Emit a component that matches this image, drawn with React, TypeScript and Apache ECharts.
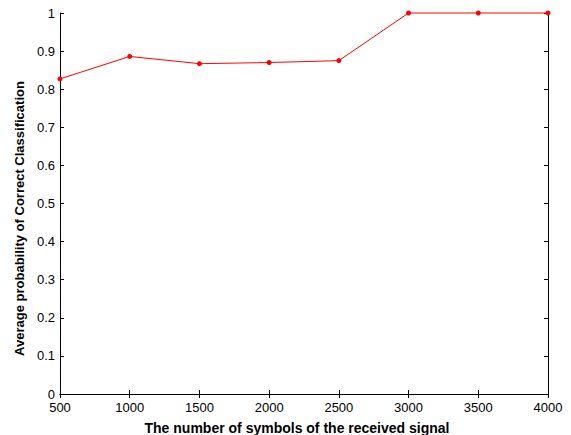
import React, { useEffect, useRef } from "react";
import * as echarts from "echarts";

const symbols = [500, 1000, 1500, 2000, 2500, 3000, 3500, 4000];
const probability = [0.827, 0.886, 0.867, 0.87, 0.875, 1, 1, 1];

export default function App() {
  const ref = useRef<HTMLDivElement>(null);
  useEffect(() => {
    if (!ref.current) return;
    const chart = echarts.init(ref.current, null, { renderer: "svg" });
    const font = "'Liberation Sans', Arial, sans-serif";
    const axisCommon = {
      type: "value" as const,
      axisLine: { show: true, lineStyle: { color: "#000", width: 1 } },
      axisTick: { show: true, inside: true, length: 4, lineStyle: { color: "#000" } },
      splitLine: { show: false },
    };
    chart.setOption({
      animation: false,
      backgroundColor: "#fff",
      grid: { left: 60, right: 23, top: 13, bottom: 41, outerBoundsMode: "none", containLabel: false },
      xAxis: [
        {
          ...axisCommon,
          min: 500,
          max: 4000,
          interval: 500,
          position: "bottom",
          axisLabel: {
            color: "#000",
            fontSize: 13,
            fontFamily: font,
            margin: 7,
            formatter: (v: number) => String(v),
          },
          name: "The number of symbols of the received signal",
          nameLocation: "middle",
          nameGap: 27,
          nameTextStyle: {
            color: "#000",
            fontSize: 14,
            fontWeight: "bold",
            fontFamily: font,
            padding: [0, 14, 0, 0],
          },
        },
        {
          ...axisCommon,
          min: 500,
          max: 4000,
          interval: 500,
          position: "top",
          axisLabel: { show: false },
        },
      ],
      yAxis: [
        {
          ...axisCommon,
          min: 0,
          max: 1,
          interval: 0.1,
          position: "left",
          axisLabel: { color: "#000", fontSize: 13, fontFamily: font, margin: 5 },
          name: "Average probability of Correct Classification",
          nameLocation: "middle",
          nameGap: 32,
          nameTextStyle: {
            color: "#000",
            fontSize: 13,
            fontWeight: "bold",
            fontFamily: font,
            padding: [0, 30, 0, 0],
          },
        },
        {
          ...axisCommon,
          min: 0,
          max: 1,
          interval: 0.1,
          position: "right",
          axisLabel: { show: false },
        },
      ],
      series: [
        {
          type: "line",
          data: symbols.map((s, i) => [s, probability[i]]),
          symbol: "circle",
          symbolSize: 5,
          showSymbol: true,
          clip: false,
          lineStyle: { color: "#ff0000", width: 1 },
          itemStyle: { color: "#ff0000" },
        },
      ],
    });
    return () => chart.dispose();
  }, []);
  return <div ref={ref} style={{ width: 571, height: 435, position: "absolute", left: 0, top: 0 }} />;
}
